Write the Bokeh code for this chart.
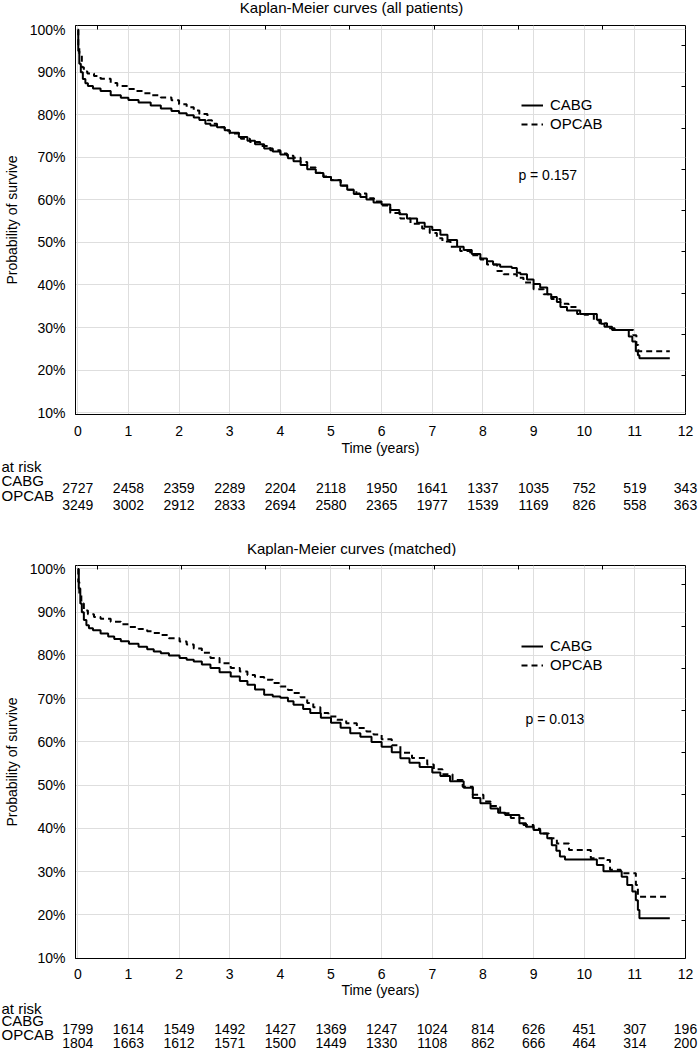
from bokeh.plotting import figure
from bokeh.models import (Range1d, LinearAxis, FixedTicker, PrintfTickFormatter,
                          Legend, LegendItem, Label, ColumnDataSource)
from bokeh.core.properties import value
from bokeh.embed import file_html
from bokeh.resources import INLINE

# ---------------- data ----------------
years = list(range(13))
pct_ticks = list(range(10, 101, 10))
series_names = ["CABG", "OPCAB"]

# Kaplan-Meier curves (all patients)
all_cabg_t = [0, 0.01, 0.03, 0.06, 0.10, 0.15, 0.20, 0.30, 0.45, 0.65, 0.85, 1.00, 1.20, 1.44, 1.64,
              1.85, 2.00, 2.15, 2.29, 2.40, 2.52, 2.62, 2.75, 2.90, 3.00, 3.18, 3.35, 3.50, 3.68, 3.85,
              4.00, 4.15, 4.26, 4.40, 4.53, 4.70, 4.85, 5.00, 5.19, 5.32, 5.45, 5.58, 5.70, 5.84, 6.00,
              6.17, 6.35, 6.50, 6.70, 6.85, 7.00, 7.16, 7.30, 7.49, 7.62, 7.78, 7.95, 8.08, 8.20, 8.34,
              8.57, 8.67, 8.74, 8.87, 9.00, 9.13, 9.27, 9.35, 9.46, 9.53, 9.66, 9.92, 10.25, 10.33, 10.40,
              10.55, 10.88, 10.95, 11.02, 11.06, 11.09, 11.69]
all_cabg_s = [100, 95.0, 92.0, 90.0, 88.4, 87.4, 86.8, 86.2, 85.6, 84.6, 84.0, 83.5, 82.9, 82.2, 81.5,
              80.9, 80.4, 79.9, 79.4, 78.8, 77.9, 77.5, 77.1, 76.4, 75.8, 74.8, 73.9, 73.1, 72.1, 71.4,
              70.7, 69.8, 69.1, 68.2, 67.2, 66.3, 65.4, 64.6, 63.3, 62.4, 61.4, 60.7, 60.1, 59.4, 58.9,
              57.6, 56.6, 55.6, 54.6, 53.7, 52.9, 51.8, 50.6, 49.0, 48.2, 47.3, 46.2, 45.6, 44.8, 44.3,
              44.0, 42.9, 42.5, 41.3, 40.2, 39.4, 37.8, 37.2, 36.0, 34.8, 34.0, 33.2, 31.8, 30.9, 30.2,
              29.4, 27.9, 26.7, 24.4, 23.5, 22.8, 22.8]
all_opcab_t = [0, 0.01, 0.03, 0.08, 0.12, 0.19, 0.32, 0.45, 0.65, 0.78, 1.00, 1.15, 1.31, 1.44, 1.64,
               1.85, 2.00, 2.15, 2.29, 2.40, 2.56, 2.65, 2.75, 2.90, 3.00, 3.22, 3.40, 3.60, 3.80, 4.00,
               4.13, 4.26, 4.40, 4.53, 4.70, 4.85, 5.00, 5.19, 5.35, 5.50, 5.70, 5.85, 6.00, 6.17, 6.37,
               6.57, 6.80, 6.95, 7.09, 7.20, 7.36, 7.55, 7.75, 7.95, 8.08, 8.28, 8.41, 8.67, 8.80, 9.00,
               9.20, 9.35, 9.53, 9.69, 9.86, 10.00, 10.19, 10.30, 10.45, 10.60, 10.97, 11.03, 11.07, 11.69]
all_opcab_s = [100, 96.0, 94.4, 91.2, 90.2, 89.7, 89.1, 88.5, 87.5, 86.8, 86.1, 85.6, 85.1, 84.6, 84.1,
               83.4, 82.5, 81.8, 81.0, 80.2, 78.7, 77.9, 77.1, 76.3, 75.6, 74.4, 73.6, 72.7, 71.7, 70.9,
               70.4, 69.9, 68.9, 67.6, 66.4, 65.5, 64.7, 63.4, 62.4, 61.5, 60.4, 59.6, 58.7, 56.9, 55.6,
               54.4, 53.3, 52.2, 51.0, 50.2, 49.0, 48.0, 47.0, 46.0, 44.8, 43.3, 42.5, 41.7, 40.6, 39.0,
               37.8, 36.7, 35.6, 34.8, 33.2, 33.0, 31.7, 31.0, 29.8, 29.4, 28.2, 25.9, 24.4, 24.4]

# Kaplan-Meier curves (matched)
m_cabg_t = [0, 0.02, 0.05, 0.08, 0.12, 0.17, 0.22, 0.30, 0.45, 0.60, 0.72, 0.85, 1.01, 1.20, 1.37,
            1.50, 1.64, 1.80, 2.01, 2.15, 2.29, 2.45, 2.62, 2.80, 3.02, 3.20, 3.35, 3.50, 3.68, 3.85,
            4.00, 4.15, 4.26, 4.45, 4.59, 4.80, 5.00, 5.19, 5.38, 5.58, 5.80, 6.00, 6.20, 6.37, 6.55,
            6.75, 7.00, 7.16, 7.35, 7.62, 7.80, 7.95, 8.15, 8.30, 8.44, 8.72, 8.85, 9.00, 9.13, 9.27,
            9.36, 9.45, 9.52, 9.62, 10.25, 10.38, 10.74, 10.85, 10.95, 11.02, 11.06, 11.09, 11.69]
m_cabg_s = [100, 95.5, 92.0, 90.0, 88.2, 87.0, 86.3, 85.8, 85.1, 84.4, 83.8, 83.3, 82.7, 82.0, 81.4,
            80.9, 80.5, 80.0, 79.4, 79.0, 78.6, 77.9, 77.1, 76.1, 75.1, 74.1, 73.2, 72.1, 70.9, 70.5,
            70.2, 69.4, 68.6, 67.6, 66.7, 65.6, 64.4, 63.3, 62.0, 61.2, 60.0, 58.9, 57.6, 56.2, 55.2,
            54.2, 52.9, 52.1, 50.9, 49.4, 47.0, 45.8, 44.6, 43.6, 43.1, 41.2, 40.4, 39.6, 38.8, 37.7,
            36.1, 34.8, 33.5, 32.8, 31.5, 30.1, 28.8, 26.9, 25.4, 23.4, 21.1, 19.2, 19.2]
m_opcab_t = [0, 0.01, 0.03, 0.07, 0.12, 0.20, 0.32, 0.45, 0.65, 0.85, 1.01, 1.20, 1.37, 1.50, 1.64,
             1.80, 2.01, 2.15, 2.29, 2.45, 2.62, 2.80, 3.02, 3.20, 3.35, 3.50, 3.68, 3.85, 4.00, 4.15,
             4.26, 4.40, 4.53, 4.65, 4.79, 4.95, 5.12, 5.30, 5.51, 5.70, 5.84, 6.00, 6.20, 6.37, 6.60,
             6.90, 7.03, 7.20, 7.40, 7.60, 7.80, 8.01, 8.15, 8.34, 8.55, 8.80, 9.00, 9.13, 9.30, 9.46,
             9.70, 10.13, 10.45, 10.51, 10.72, 11.02, 11.06, 11.69]
m_opcab_s = [100, 97.0, 94.3, 92.0, 90.4, 89.5, 88.9, 88.5, 87.8, 87.2, 86.6, 86.1, 85.6, 85.2, 84.7,
             84.0, 83.2, 82.5, 81.6, 80.6, 79.4, 78.2, 77.1, 76.3, 75.5, 75.0, 74.4, 73.6, 72.8, 72.0,
             71.3, 70.3, 69.0, 68.0, 66.7, 65.9, 65.1, 64.3, 63.2, 62.4, 61.7, 60.6, 59.2, 57.5, 56.3,
             54.8, 53.7, 52.5, 51.2, 49.6, 47.8, 46.2, 45.2, 43.5, 42.4, 40.8, 39.9, 38.8, 37.7, 36.5,
             35.0, 33.1, 32.7, 30.4, 29.6, 26.9, 24.2, 24.2]

# numbers at risk at each year
all_cabg_risk = [2727, 2458, 2359, 2289, 2204, 2118, 1950, 1641, 1337, 1035, 752, 519, 343]
all_opcab_risk = [3249, 3002, 2912, 2833, 2694, 2580, 2365, 1977, 1539, 1169, 826, 558, 363]
m_cabg_risk = [1799, 1614, 1549, 1492, 1427, 1369, 1247, 1024, 814, 626, 451, 307, 196]
m_opcab_risk = [1804, 1663, 1612, 1571, 1500, 1449, 1330, 1108, 862, 666, 464, 314, 200]

# secondary (unlabelled) tick marks on the top and right frame edges
top_ticks = [0.383, 2.046, 3.709, 5.372, 7.035, 8.698, 10.361]
right_ticks = [96.3, 86.6, 76.9, 67.2, 57.5, 47.8, 38.1, 28.4, 18.7]

# ---------------- style / layout ----------------
FONT = "Liberation Sans"
W = 698
XR = (-0.045, 12.0)
BL, BR = 75, 13
PPY = (W - BL - BR) / (XR[1] - XR[0])
TXR = (XR[0] - BL / PPY, XR[1] + BR / PPY)   # x range of full-width text strips
GRID = "#dedede"


def text_fig(h, xr):
    f = figure(width=W, height=h, x_range=Range1d(*xr), y_range=Range1d(h, 0),
               output_backend="svg", toolbar_location=None, min_border=0,
               x_axis_location=None, y_axis_location=None)
    f.outline_line_color = None
    f.grid.visible = False
    return f


def title_fig(h, y, txt):
    f = text_fig(h, (0, W))
    f.text(x=[351], y=[y], text=[txt], text_align="center", text_baseline="middle",
           text_font=value(FONT), text_font_size="15px", text_color="black")
    return f


def risk_fig(h, rows, r1, r2):
    at_y, l1_y, n1_y, l2_y, n2_y = rows
    f = text_fig(h, TXR)
    f.text(x=[TXR[0] + 1 / PPY] * 3, y=[at_y, l1_y, l2_y], text=["at risk"] + series_names,
           text_align="left", text_baseline="middle", text_font=value(FONT),
           text_font_size="15px", text_color="black")
    for vals, yy in ((r1, n1_y), (r2, n2_y)):
        f.text(x=years, y=[yy] * len(years), text=[str(v) for v in vals], text_align="center",
               text_baseline="middle", text_font=value(FONT), text_font_size="14px",
               text_color="black")
    return f


def chart(t1, s1, t2, s2, yr, frame_h, bottom, lab_so, axl_so, pval, pxy, leg_y):
    top = 9
    p = figure(width=W, height=top + frame_h + bottom, x_range=Range1d(*XR), y_range=Range1d(*yr),
               output_backend="svg", toolbar_location=None,
               min_border_left=BL, min_border_right=BR, min_border_top=top,
               min_border_bottom=bottom,
               x_axis_label="Time (years)", y_axis_label="Probability of survive")
    p.outline_line_color = "black"
    p.outline_line_width = 1
    p.outline_line_alpha = 1

    xa = p.xaxis[0]
    xa.ticker = FixedTicker(ticks=years)
    ya = p.yaxis[0]
    ya.ticker = FixedTicker(ticks=pct_ticks)
    ya.formatter = PrintfTickFormatter(format="%d%%")
    for ax in (xa, ya):
        ax.axis_line_color = "black"
        ax.major_tick_out = 0
        ax.major_tick_in = 0
        ax.minor_tick_in = 0
        ax.minor_tick_out = 0
        ax.major_label_text_font = FONT
        ax.major_label_text_font_size = "14px"
        ax.major_label_text_color = "black"
        ax.axis_label_text_font = FONT
        ax.axis_label_text_font_size = "14px"
        ax.axis_label_text_font_style = "normal"
        ax.axis_label_text_color = "black"
    xa.major_label_standoff = lab_so
    xa.axis_label_standoff = axl_so
    ya.major_label_standoff = 10
    ya.axis_label_standoff = 7

    for loc, tk in (("above", top_ticks), ("right", right_ticks)):
        ax = LinearAxis(ticker=FixedTicker(ticks=tk), major_tick_in=4, major_tick_out=0,
                        minor_tick_in=0, minor_tick_out=0, axis_line_color=None,
                        major_tick_line_color="black", major_label_text_font_size="0px",
                        major_label_standoff=0, major_label_text_color=None)
        p.add_layout(ax, loc)

    p.xgrid.grid_line_color = GRID
    p.ygrid.grid_line_color = GRID

    g1 = p.step(x="t", y="s", source=ColumnDataSource(dict(t=t1, s=s1)), mode="after",
                line_color="black", line_width=2)
    g2 = p.step(x="t", y="s", source=ColumnDataSource(dict(t=t2, s=s2)), mode="after",
                line_color="black", line_width=2, line_dash="6 4")

    legend = Legend(items=[LegendItem(label=series_names[0], renderers=[g1]),
                           LegendItem(label=series_names[1], renderers=[g2])],
                    location=(446, leg_y), label_text_font=FONT, label_text_font_size="15px",
                    label_text_color="black", glyph_width=22, glyph_height=16, label_height=16,
                    label_standoff=7, spacing=2, padding=0, margin=0,
                    border_line_color=None, background_fill_alpha=0)
    p.add_layout(legend)
    p.add_layout(Label(x=pxy[0], y=pxy[1], text=pval, text_font=FONT, text_font_size="14px",
                       text_color="black", text_baseline="middle", text_align="left"))
    return p


# panel 1: page rows 0-16 title, 16-458 chart, 458-512 numbers at risk
t1 = title_fig(16, 7, "Kaplan-Meier curves (all patients)")
c1 = chart(all_cabg_t, all_cabg_s, all_opcab_t, all_opcab_s, (9.55, 101.0), 392, 41, 11, 1,
           "p = 0.157", (8.70, 65.8), 282)
k1 = risk_fig(54, (8, 22, 29, 37, 46), all_cabg_risk, all_opcab_risk)
# panel 2: page rows 512-556 title, 556-1000 chart, 1000-1049 numbers at risk
t2 = title_fig(44, 36, "Kaplan-Meier curves (matched)")
c2 = chart(m_cabg_t, m_cabg_s, m_opcab_t, m_opcab_s, (9.9, 100.8), 395, 40, 10, 0,
           "p = 0.013", (8.84, 65.4), 285)
k2 = risk_fig(49, (8, 20, 28, 34, 42), m_cabg_risk, m_opcab_risk)

with open("out.html", "w") as fh:
    fh.write(file_html([t1, c1, k1, t2, c2, k2], INLINE, title="Kaplan-Meier curves"))
